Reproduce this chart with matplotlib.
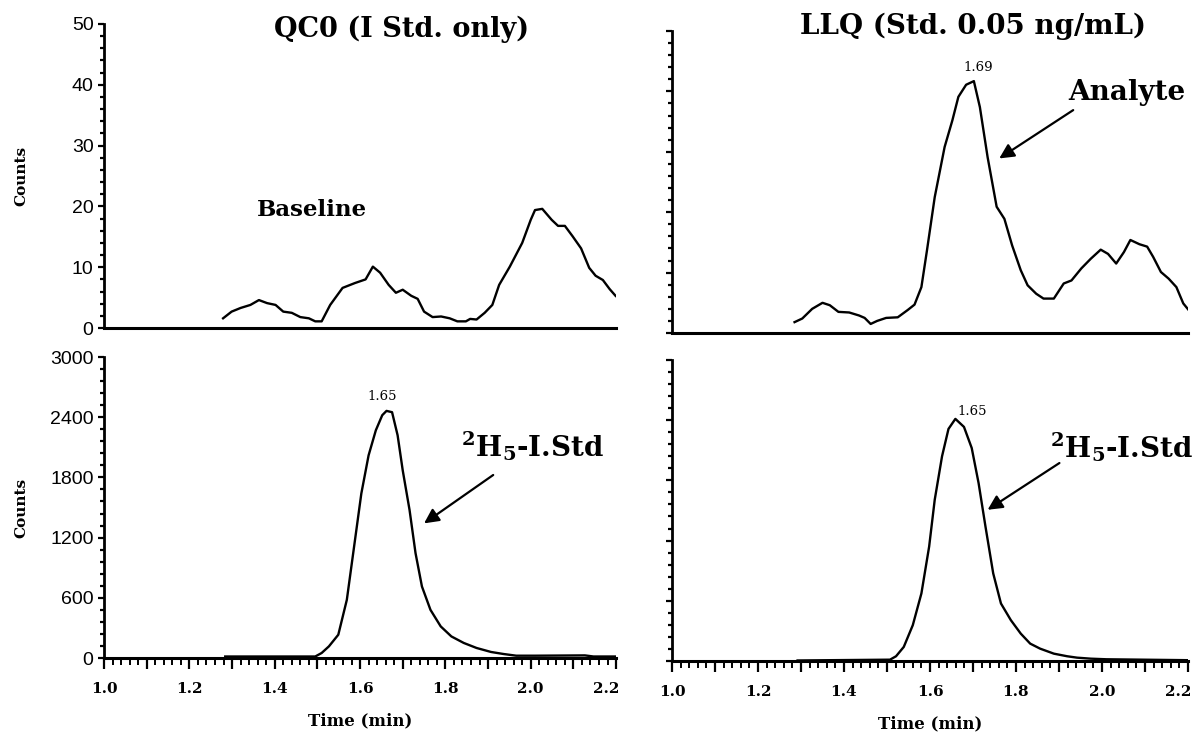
import matplotlib
matplotlib.use("Agg")
import matplotlib.pyplot as plt
import matplotlib.transforms as mtrans
from matplotlib.ticker import MultipleLocator, FuncFormatter

plt.rcParams['mathtext.fontset'] = 'custom'
plt.rcParams['mathtext.rm'] = 'DejaVu Serif:bold'
plt.rcParams['mathtext.bf'] = 'DejaVu Serif:bold'
plt.rcParams['mathtext.default'] = 'bf'

# ---- data ----
tl_time = [1.279, 1.299, 1.32, 1.343, 1.363, 1.382, 1.402, 1.42, 1.44, 1.46, 1.48, 1.495,
           1.51, 1.53, 1.559, 1.588, 1.613, 1.63, 1.647, 1.667, 1.684, 1.70, 1.72, 1.735,
           1.75, 1.77, 1.79, 1.81, 1.828, 1.848, 1.858, 1.873, 1.892, 1.91, 1.926, 1.951,
           1.98, 2.0, 2.01, 2.027, 2.049, 2.064, 2.08, 2.098, 2.118, 2.137, 2.152, 2.169,
           2.185, 2.20, 2.215]
tl_counts = [1.6, 2.7, 3.3, 3.8, 4.6, 4.1, 3.8, 2.7, 2.5, 1.8, 1.6, 1.1,
             1.1, 3.8, 6.6, 7.4, 8.0, 10.1, 9.1, 7.1, 5.8, 6.3, 5.3, 4.8,
             2.7, 1.8, 1.9, 1.6, 1.1, 1.1, 1.5, 1.4, 2.5, 3.8, 7.1, 10.1,
             14.0, 17.8, 19.4, 19.6, 17.8, 16.8, 16.8, 15.1, 13.1, 9.9, 8.6, 7.9,
             6.4, 5.2, 5.2]

tr_time = [1.285, 1.303, 1.326, 1.35, 1.367, 1.387, 1.412, 1.435, 1.448, 1.462, 1.477,
           1.498, 1.525, 1.548, 1.564, 1.58, 1.593, 1.611, 1.634, 1.652, 1.666, 1.684,
           1.702, 1.716, 1.734, 1.755, 1.773, 1.791, 1.811, 1.827, 1.847, 1.864, 1.888,
           1.911, 1.929, 1.952, 1.974, 1.997, 2.014, 2.033, 2.051, 2.066, 2.087, 2.105,
           2.119, 2.137, 2.155, 2.173, 2.189, 2.205]
tr_counts = [1.8, 2.4, 4.0, 5.0, 4.6, 3.5, 3.4, 2.9, 2.5, 1.5, 2.0,
             2.5, 2.6, 3.8, 4.7, 7.6, 13.7, 22.5, 30.8, 35.2, 39.1, 41.1,
             41.7, 37.4, 29.1, 20.9, 18.9, 14.5, 10.4, 7.9, 6.5, 5.7, 5.7,
             8.2, 8.7, 10.7, 12.3, 13.8, 13.1, 11.5, 13.4, 15.4, 14.7, 14.3,
             12.6, 10.1, 9.0, 7.6, 4.9, 3.5]

bl_time = [1.284, 1.495, 1.51, 1.527, 1.549, 1.569, 1.586, 1.603, 1.62, 1.637, 1.652,
           1.662, 1.675, 1.688, 1.70, 1.716, 1.73, 1.745, 1.765, 1.789, 1.814, 1.843,
           1.873, 1.907, 1.936, 1.966, 2.01, 2.127, 2.147, 2.21]
bl_counts = [15, 15, 50, 116, 232, 580, 1110, 1640, 2020, 2270, 2420,
             2463, 2450, 2220, 1870, 1475, 1045, 713, 480, 315, 215, 150,
             100, 60, 40, 23, 23, 26, 15, 15]

br_time = [1.292, 1.507, 1.521, 1.539, 1.56, 1.58, 1.598, 1.611, 1.628, 1.643, 1.659,
           1.679, 1.697, 1.713, 1.729, 1.747, 1.765, 1.788, 1.811, 1.833, 1.856, 1.888,
           1.919, 1.942, 1.974, 2.01, 2.218]
br_counts = [5, 13, 47, 140, 357, 673, 1140, 1607, 2040, 2313, 2413,
             2333, 2123, 1773, 1340, 873, 573, 407, 273, 173, 123, 73,
             47, 33, 23, 17, 7]

titles = ["QC0 (I Std. only)", "LLQ (Std. 0.05 ng/mL)"]
x_ticklabel_values = [1.0, 1.2, 1.4, 1.6, 1.8, 2.0, 2.2]

SERIF = "DejaVu Serif"
SANS = "Liberation Sans"

fig = plt.figure(figsize=(12, 7.43), dpi=100)

def mk_ax(rect):
    ax = fig.add_axes(rect)
    for s in ("top", "right"):
        ax.spines[s].set_visible(False)
    ax.spines["left"].set_linewidth(2.0)
    ax.spines["bottom"].set_linewidth(2.2)
    ax.set_xlim(1.0, 2.2)
    ax.tick_params(axis="y", which="major", direction="out", length=4, width=1.6)
    ax.tick_params(axis="y", which="minor", direction="out", length=3, width=1.6)
    return ax

ax_tl = mk_ax([0.0867, 0.5585, 0.4267, 0.4092])
ax_tr = mk_ax([0.5600, 0.5518, 0.4300, 0.4065])
ax_bl = mk_ax([0.0867, 0.1144, 0.4267, 0.4051])
ax_br = mk_ax([0.5600, 0.1104, 0.4300, 0.4051])

for ax in (ax_tl, ax_tr):
    ax.set_ylim(0, 50)
    ax.yaxis.set_major_locator(MultipleLocator(10))
    ax.yaxis.set_minor_locator(MultipleLocator(2))
    ax.set_xticks([])
for ax in (ax_bl, ax_br):
    ax.set_ylim(0, 3000)
    ax.yaxis.set_major_locator(MultipleLocator(600))
    ax.yaxis.set_minor_locator(MultipleLocator(120))
    ax.xaxis.set_major_locator(MultipleLocator(0.1))
    ax.xaxis.set_minor_locator(MultipleLocator(0.02))
    ax.tick_params(axis="x", which="major", direction="out", length=8, width=1.6, pad=9)
    ax.tick_params(axis="x", which="minor", direction="out", length=5, width=1.4)

def xfmt(v, pos):
    for t in x_ticklabel_values:
        if abs(v - t) < 1e-6:
            return f"{t:.1f}"
    return ""

for ax in (ax_bl, ax_br):
    ax.xaxis.set_major_formatter(FuncFormatter(xfmt))
    fig.canvas.draw()
    for lab in ax.get_xticklabels():
        lab.set_fontfamily(SERIF)
        lab.set_fontsize(11)
        lab.set_fontweight("bold")
    ax.set_xlabel("Time (min)", fontfamily=SERIF, fontweight="bold", fontsize=12, labelpad=12)

for ax in (ax_tl, ax_bl):
    for lab in ax.get_yticklabels():
        lab.set_fontfamily(SANS)
        lab.set_fontsize(14)
    ax.set_ylabel("Counts", fontfamily=SERIF, fontweight="bold", fontsize=11)
    ax.yaxis.set_label_coords(-0.148, 0.5)
for ax in (ax_tr, ax_br):
    ax.set_yticklabels([])

lw = 1.7
ax_tl.plot(tl_time, tl_counts, color="black", lw=lw, solid_joinstyle="round")
ax_tr.plot(tr_time, tr_counts, color="black", lw=lw, solid_joinstyle="round")
ax_bl.plot(bl_time, bl_counts, color="black", lw=lw, solid_joinstyle="round")
ax_br.plot(br_time, br_counts, color="black", lw=lw, solid_joinstyle="round")

# titles
fig.text(402 / 1200, 1 - 37 / 743, titles[0], ha="center", va="baseline",
         fontfamily=SERIF, fontweight="bold", fontsize=19.5)
fig.text(973 / 1200, 1 - 34 / 743, titles[1], ha="center", va="baseline",
         fontfamily=SERIF, fontweight="bold", fontsize=20)

# annotations
ax_tl.text(1.487, 19.4, "Baseline", ha="center", va="center",
           fontfamily=SERIF, fontweight="bold", fontsize=16.5)

ax_tr.text(1.713, 43.9, "1.69", ha="center", va="center", fontfamily=SERIF, fontsize=9.5)
ax_tr.text(2.058, 38.6, "Analyte", ha="center", va="baseline",
           fontfamily=SERIF, fontweight="bold", fontsize=20)
ax_tr.annotate("", xy=(1.761, 28.9), xytext=(1.933, 36.9),
               arrowprops=dict(arrowstyle="-|>", color="black", lw=1.6,
                               mutation_scale=22, shrinkA=0, shrinkB=0))

ax_bl.text(1.652, 2602, "1.65", ha="center", va="center", fontfamily=SERIF, fontsize=9.5)
ax_bl.text(2.005, 2006, r"$^2$H$_5$-I.Std", ha="center", va="baseline",
           fontfamily=SERIF, fontweight="bold", fontsize=20)
ax_bl.annotate("", xy=(1.75, 1342), xytext=(1.912, 1824),
               arrowprops=dict(arrowstyle="-|>", color="black", lw=1.6,
                               mutation_scale=22, shrinkA=0, shrinkB=0))

ax_br.text(1.664, 2490, "1.65", ha="left", va="center", fontfamily=SERIF, fontsize=9.5)
ax_br.text(2.046, 2030, r"$^2$H$_5$-I.Std", ha="center", va="baseline",
           fontfamily=SERIF, fontweight="bold", fontsize=20)
ax_br.annotate("", xy=(1.734, 1507), xytext=(1.901, 1973),
               arrowprops=dict(arrowstyle="-|>", color="black", lw=1.6,
                               mutation_scale=22, shrinkA=0, shrinkB=0))

# the last tick label sits slightly left of its tick in the reference
for ax in (ax_bl, ax_br):
    labs = ax.get_xticklabels()
    locs = ax.get_xticks()
    for lab, loc in zip(labs, locs):
        if abs(loc - 2.2) < 1e-6:
            lab.set_transform(lab.get_transform() +
                              mtrans.ScaledTranslation(-10 / 100, 0, fig.dpi_scale_trans))

fig.savefig("out.png", dpi=100, facecolor="white")
